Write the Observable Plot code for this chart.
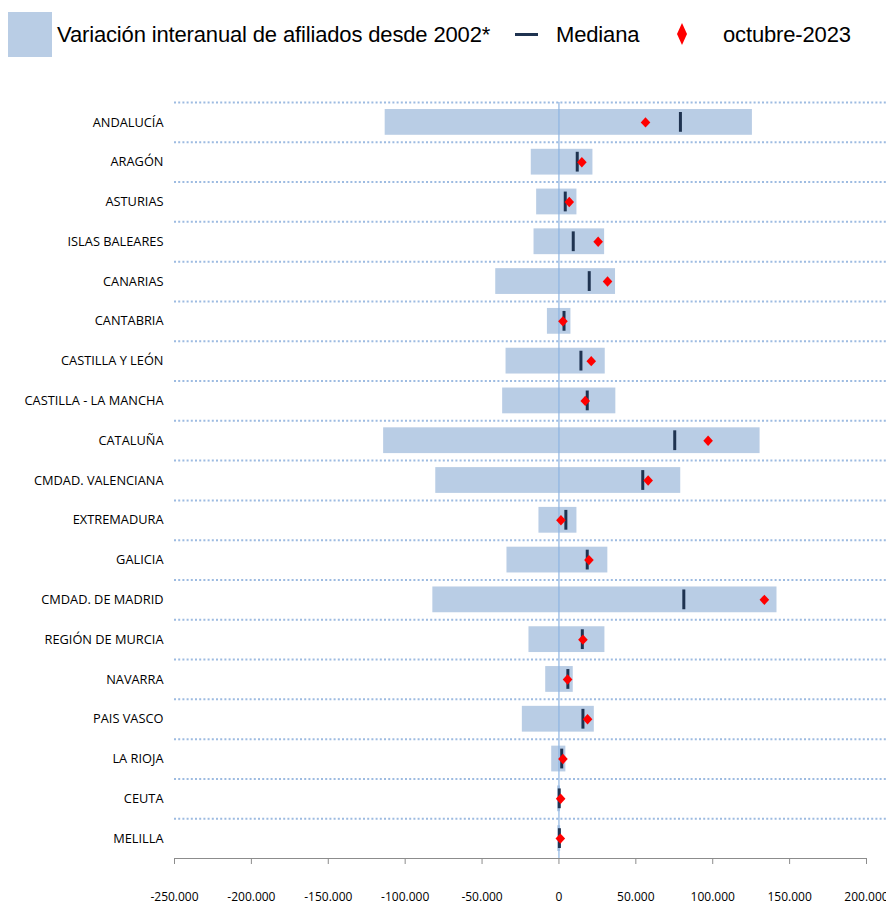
<!DOCTYPE html>
<html>
<head>
<meta charset="utf-8">
<script src="https://cdn.jsdelivr.net/npm/d3@7"></script>
<script src="https://cdn.jsdelivr.net/npm/@observablehq/plot@0.6"></script>
<style>
  html, body { margin: 0; padding: 0; background: #fff; }
  #wrap { position: relative; width: 886px; height: 904px; }
  #chart { position: absolute; left: 0; top: 0; }
  .lg { position: absolute; font-family: "Liberation Sans", Arial, sans-serif; font-size: 22px; letter-spacing: -0.15px; color: #000; line-height: 1; white-space: nowrap; }
</style>
</head>
<body>
<div id="wrap">
  <div id="chart"></div>
  <div style="position:absolute;left:8px;top:12px;width:44px;height:45px;background:#b9cde5"></div>
  <div class="lg" style="left:57px;top:24px">Variación interanual de afiliados desde 2002*</div>
  <div style="position:absolute;left:515px;top:33px;width:23px;height:3px;background:#1f3350"></div>
  <div class="lg" style="left:556px;top:24px">Mediana</div>
  <svg style="position:absolute;left:676px;top:23px" width="12" height="22"><path d="M6,0L11,11L6,22L1,11Z" fill="#ff0000"/></svg>
  <div class="lg" style="left:723px;top:24px">octubre-2023</div>
</div>
<script>
const regions = ["ANDALUCÍA","ARAGÓN","ASTURIAS","ISLAS BALEARES","CANARIAS","CANTABRIA","CASTILLA Y LEÓN","CASTILLA - LA MANCHA","CATALUÑA","CMDAD. VALENCIANA","EXTREMADURA","GALICIA","CMDAD. DE MADRID","REGIÓN DE MURCIA","NAVARRA","PAIS VASCO","LA RIOJA","CEUTA","MELILLA"];
const minVals = [-113000,-18000,-14500,-16200,-41100,-7500,-34400,-36600,-114000,-80100,-13000,-33800,-82000,-19500,-8600,-23800,-4700,-900,-800];
const maxVals = [125800,22100,11700,29700,36800,7800,30100,37000,130800,79200,11700,31800,141800,29900,9300,23000,4500,1000,1100];
const medians = [79000,11900,4100,9300,19700,3300,14300,18400,75300,54500,4500,18400,81200,15200,5800,15600,1800,200,300];
const oct2023 = [56300,14900,6700,25500,31600,2600,21000,17100,97000,58000,1300,19500,133600,15600,5600,18600,2600,1100,900];
const xTicks = [-250000,-200000,-150000,-100000,-50000,0,50000,100000,150000,200000];

const data = regions.map((r, i) => ({region: r, min: minVals[i], max: maxVals[i], median: medians[i], oct: oct2023[i]}));

const fmt = d3.formatLocale({decimal: ",", thousands: ".", grouping: [3], currency: ["", "€"], minus: "-"}).format(",");

const W = 886, H = 904, mt = 102, mb = 46, ml = 174, mr = 20;
const bw = (H - mt - mb) / regions.length;

const diamond = {
  draw(ctx) {
    const w = 4.8, h = 5.2;
    ctx.moveTo(0, -h); ctx.lineTo(w, 0); ctx.lineTo(0, h); ctx.lineTo(-w, 0); ctx.closePath();
  }
};

const chart = Plot.plot({
  width: W, height: H,
  marginTop: mt, marginBottom: mb, marginLeft: ml, marginRight: mr,
  style: {fontFamily: "'Open Sans', sans-serif", background: "#fff", overflow: "visible"},
  x: {domain: [-250000, 200000], axis: null},
  y: {domain: regions, padding: 0, round: false, axis: null},
  marks: [
    Plot.ruleY(regions, {y: d => d, dy: -bw / 2, stroke: "#9dbbe1", strokeWidth: 2, strokeDasharray: "2,2.2", insetRight: -mr}),
    Plot.barX(data, {x1: "min", x2: "max", y: "region", fill: "#b9cde5", insetTop: 7, insetBottom: 7}),
    Plot.ruleX([0], {stroke: "#8db4e2", strokeWidth: 1.2}),
    Plot.tickX(data, {x: "median", y: "region", stroke: "#1f3350", strokeWidth: 3, insetTop: 10, insetBottom: 10}),
    Plot.dot(data, {x: "oct", y: "region", symbol: diamond, fill: "#ff0000", stroke: "none"}),
    Plot.ruleY([regions[regions.length - 1]], {y: d => d, dy: bw / 2, stroke: "#8c8c8c", strokeWidth: 1}),
    Plot.axisX({ticks: xTicks, tickFormat: fmt, tickSize: 6, tickPadding: 28, stroke: "#8c8c8c", fontSize: 12, fill: "#000", label: null}),
    Plot.axisY({tickSize: 0, tickPadding: 11, fontSize: 12.8, fill: "#000", label: null})
  ]
});
document.getElementById("chart").appendChild(chart);
</script>
</body>
</html>
